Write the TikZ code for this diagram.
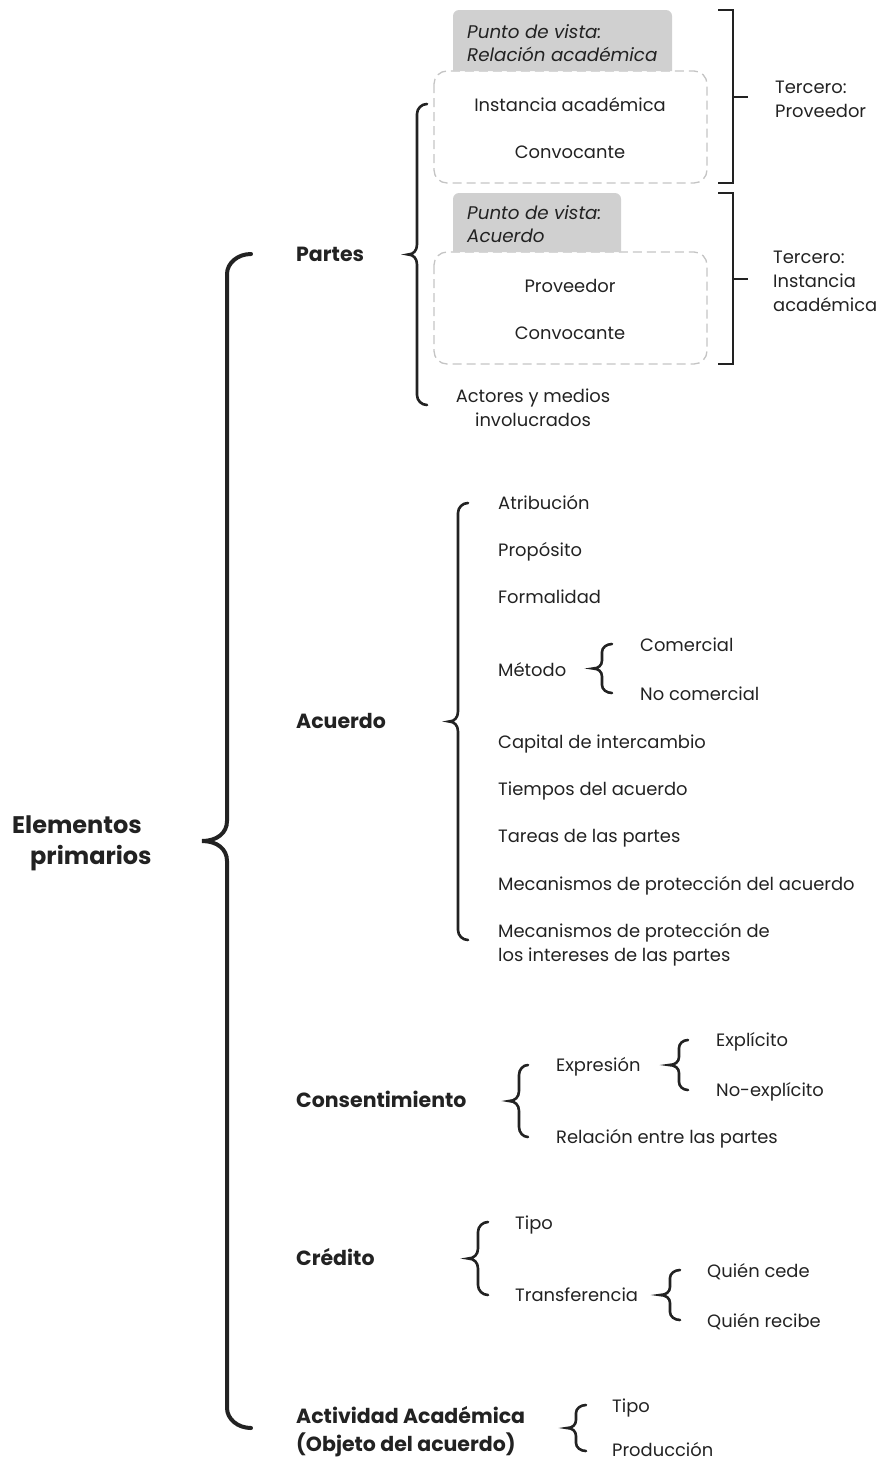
\documentclass[tikz,border=0pt]{standalone}
\usepackage{fontspec}
\setmainfont{Poppins}
\definecolor{ink}{HTML}{222222}
\definecolor{tabgray}{HTML}{D0D0D0}
\definecolor{dashgray}{HTML}{C4C4C4}
\tikzset{
  lbl/.style={anchor=west, inner sep=0pt, yshift=-2.5pt, text=ink, font=\fontsize{17.9}{24}\selectfont, text height=12.5pt, text depth=3.5pt},
  multi/.style={text height=, text depth=},
  ctr/.style={lbl, anchor=center, align=center},
  head/.style={lbl, font=\fontsize{20.5}{28}\bfseries\selectfont},
  roothead/.style={lbl, font=\fontsize{24}{31}\bfseries\selectfont},
  tabtxt/.style={lbl, multi, font=\fontsize{18.3}{23}\itshape\selectfont, align=left},
  brc/.style={draw=ink, line width=2.6pt, line cap=round},
  bigbrc/.style={brc, line width=4pt},
  bracket/.style={draw=ink, line width=2.6pt},
  tabfill/.style={fill=tabgray},
  dbox/.style={draw=dashgray, line width=1.3pt, dash pattern=on 9pt off 5pt, rounded corners=13pt},
}
% curly brace: end x, line x, tip x, top y, bottom y, curl radius
\newcommand{\curlybrace}[7][brc]{%
  \draw[#1] (#2,#5) .. controls ({#3+0.45*(#2-#3)},#5) and (#3,{#5+0.45*#7}) .. (#3,{#5+#7})
    -- (#3,{(#5+#6)/2-#7}) .. controls (#3,{(#5+#6)/2-0.4*#7}) and ({#3-0.4*(#3-#4)},{(#5+#6)/2}) .. (#4,{(#5+#6)/2})
    .. controls ({#3-0.4*(#3-#4)},{(#5+#6)/2}) and (#3,{(#5+#6)/2+0.4*#7}) .. (#3,{(#5+#6)/2+#7})
    -- (#3,{#6-#7}) .. controls (#3,{#6-0.45*#7}) and ({#3+0.45*(#2-#3)},#6) .. (#2,#6);}
\begin{document}
\begin{tikzpicture}[x=1pt, y=-1pt]
\useasboundingbox (0,0) rectangle (878,1462);

% root
\node[roothead] (root1) at (12,826) {Elementos};
\node[roothead] (root2) at (30,857) {primarios};
\curlybrace[bigbrc]{251}{227}{202}{254}{1428}{20}

% level 1
\node[head] (partes) at (296,254) {Partes};
\node[head] (acuerdo) at (296,721) {Acuerdo};
\node[head] (consent) at (296,1100) {Consentimiento};
\node[head] (credito) at (296,1258) {Crédito};
\node[head, multi, align=left] (activ) at (296,1429) {Actividad Académica\\(Objeto del acuerdo)};

% Partes
\curlybrace{427}{417}{408}{104}{405}{10}
\draw[dbox] (434,71) rectangle (707,183);
\fill[tabfill] (453,71) [rounded corners=6pt] -- (453,10) -- (672,10) [sharp corners] -- (672,71) -- cycle;
\node[tabtxt] (pv1) at (467,41) {Punto de vista:\\Relación académica};
\node[ctr] (inst1) at (570,104) {Instancia académica};
\node[ctr] (conv1) at (570,151) {Convocante};

\draw[dbox] (434,252) rectangle (707,364);
\fill[tabfill] (453,252) [rounded corners=6pt] -- (453,193) -- (621,193) [sharp corners] -- (621,252) -- cycle;
\node[tabtxt] (pv2) at (467,222) {Punto de vista:\\Acuerdo};
\node[ctr] (prov2) at (570,285) {Proveedor};
\node[ctr] (conv2) at (570,332) {Convocante};

\node[ctr, multi] (actores) at (533,405) {Actores y medios\\involucrados};

\draw[bracket] (718,10) -- (733,10) -- (733,183) -- (718,183);
\draw[bracket] (733,97) -- (748,97);
\node[lbl, multi, align=left] (ter1) at (775,97) {Tercero:\\Proveedor};
\draw[bracket] (718,193) -- (733,193) -- (733,364) -- (718,364);
\draw[bracket] (733,279) -- (748,279);
\node[lbl, multi, align=left] (ter2) at (773,279) {Tercero:\\Instancia\\académica};

% Acuerdo
\curlybrace{468}{458}{449}{503}{940}{10}
\node[lbl] (atrib) at (498,502) {Atribución};
\node[lbl] (prop) at (498,549) {Propósito};
\node[lbl] (formal) at (498,596) {Formalidad};
\node[lbl] (metodo) at (498,669) {Método};
\curlybrace{612}{602}{593}{644}{693}{8}
\node[lbl] (comer) at (640,644) {Comercial};
\node[lbl] (nocomer) at (640,693) {No comercial};
\node[lbl] (capital) at (498,741) {Capital de intercambio};
\node[lbl] (tiempos) at (498,788) {Tiempos del acuerdo};
\node[lbl] (tareas) at (498,835) {Tareas de las partes};
\node[lbl] (mec1) at (498,883) {Mecanismos de protección del acuerdo};
\node[lbl, multi, align=left] (mec2) at (498,942) {Mecanismos de protección de\\los intereses de las partes};

% Consentimiento
\curlybrace{528}{519}{509}{1065}{1137}{10}
\node[lbl] (expr) at (556,1064) {Expresión};
\node[lbl] (relac) at (556,1136) {Relación entre las partes};
\curlybrace{688}{679}{669}{1040}{1090}{8}
\node[lbl] (expl) at (716,1039) {Explícito};
\node[lbl] (noexpl) at (716,1089) {No-explícito};

% Crédito
\curlybrace{488}{478}{468}{1222}{1295}{10}
\node[lbl] (tipo1) at (515,1222) {Tipo};
\node[lbl] (transf) at (515,1294) {Transferencia};
\curlybrace{680}{670}{660}{1270}{1320}{8}
\node[lbl] (cede) at (707,1270) {Quién cede};
\node[lbl] (recibe) at (707,1320) {Quién recibe};

% Actividad académica
\curlybrace{586}{576}{567}{1405}{1451}{8}
\node[lbl] (tipo2) at (612,1405) {Tipo};
\node[lbl] (produc) at (612,1449) {Producción};
\end{tikzpicture}
\end{document}
